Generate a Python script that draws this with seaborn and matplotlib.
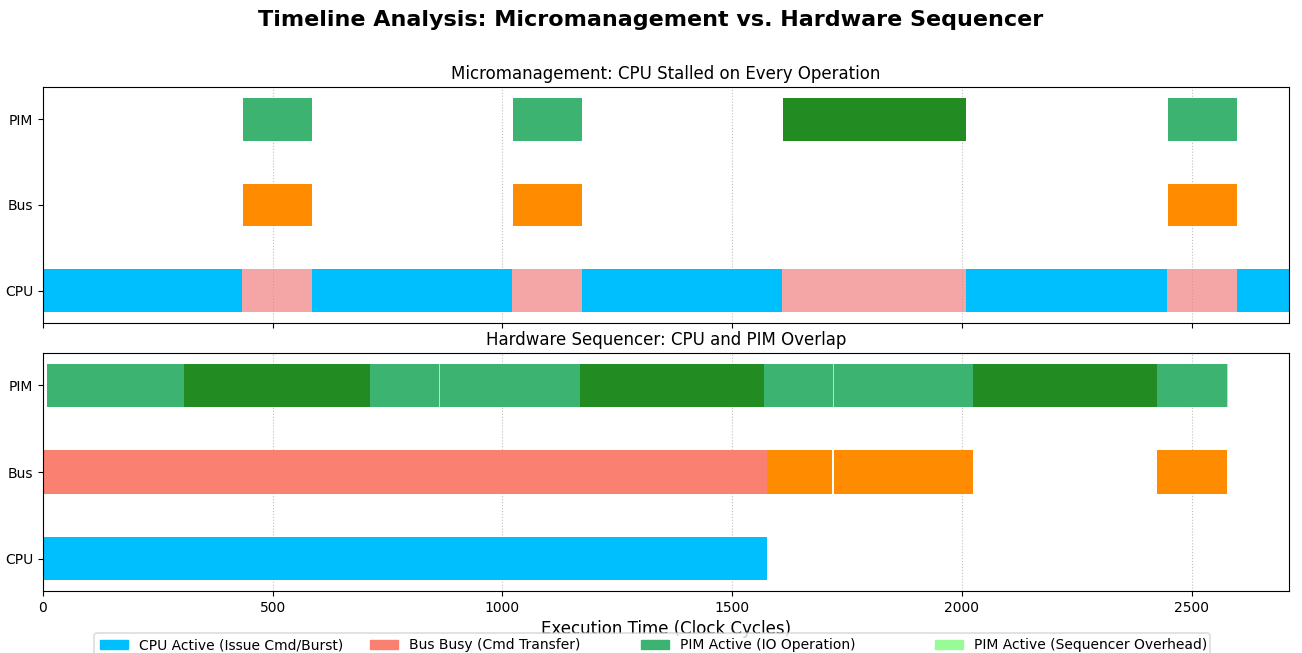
import matplotlib
matplotlib.use("Agg")
import matplotlib.pyplot as plt
from matplotlib.patches import Patch, FancyBboxPatch
from matplotlib.transforms import IdentityTransform
import seaborn as sns

# ---------------- data (start cycle, duration in cycles) ----------------
ROWS = ["CPU", "Bus", "PIM"]
X_MAX = 2712
X_TICKS = [0, 500, 1000, 1500, 2000, 2500]

# Micromanagement
MM_CPU_ACTIVE = [(0, 434), (586, 435), (1173, 435), (2010, 436), (2598, 114)]
MM_CPU_STALL = [(434, 152), (1021, 152), (1608, 402), (2446, 152)]
MM_BUS_DATA = [(436, 150), (1023, 150), (2448, 150)]
MM_PIM_IO = [(436, 150), (1023, 150), (2448, 150)]
MM_PIM_COMPUTE = [(1610, 400)]

# Hardware sequencer
HS_CPU_ACTIVE = [(0, 1575)]
HS_BUS_CMD = [(0, 1575)]
HS_BUS_DATA = [(1575, 143), (1722, 303), (2425, 152)]
HS_PIM_IO = [(8, 300), (711, 150), (865, 303), (1569, 150), (1722, 303), (2425, 152)]
HS_PIM_COMPUTE = [(308, 403), (1168, 401), (2025, 400)]
HS_PIM_OVERHEAD = [(861, 4), (1719, 3), (2577, 3)]

LEGEND_LABELS = ["CPU Active (Issue Cmd/Burst)", "Bus Busy (Cmd Transfer)",
                 "PIM Active (IO Operation)", "PIM Active (Sequencer Overhead)"]

# ---------------- style ----------------
C_CPU = "deepskyblue"
C_STALL = "lightcoral"
C_BUS = "salmon"
C_DATA = "darkorange"
C_IO = "mediumseagreen"
C_COMP = "forestgreen"
C_OVH = "palegreen"

sns.set_style("ticks", rc={"axes.edgecolor": "black", "xtick.color": "black",
                           "ytick.color": "black", "text.color": "black",
                           "axes.labelcolor": "black"})
plt.rcParams["font.family"] = ["DejaVu Sans"]

W, H = 1302, 653
fig = plt.figure(figsize=(W / 100, H / 100), dpi=100)
ax1 = fig.add_axes([0.0330, 0.5054, 0.9570, 0.3614])
ax2 = fig.add_axes([0.0330, 0.0949, 0.9570, 0.3645], sharex=ax1)


def draw(ax, segs, row, color, alpha=1.0):
    y = ROWS.index(row)
    for s, d in segs:
        ax.barh(y, d, left=s, height=0.5, color=color, alpha=alpha, linewidth=0)


draw(ax1, MM_CPU_ACTIVE, "CPU", C_CPU)
draw(ax1, MM_CPU_STALL, "CPU", C_STALL, alpha=0.7)
draw(ax1, MM_BUS_DATA, "Bus", C_DATA)
draw(ax1, MM_PIM_IO, "PIM", C_IO)
draw(ax1, MM_PIM_COMPUTE, "PIM", C_COMP)

draw(ax2, HS_CPU_ACTIVE, "CPU", C_CPU)
draw(ax2, HS_BUS_CMD, "Bus", C_BUS)
draw(ax2, HS_BUS_DATA, "Bus", C_DATA)
draw(ax2, HS_PIM_IO, "PIM", C_IO)
draw(ax2, HS_PIM_COMPUTE, "PIM", C_COMP)
draw(ax2, HS_PIM_OVERHEAD, "PIM", C_OVH)

for ax in (ax1, ax2):
    ax.set_yticks(range(len(ROWS)))
    ax.set_yticklabels(ROWS, fontsize=10)
    ax.set_xlim(0, X_MAX)
    ax.set_xticks(X_TICKS)
    ax.grid(axis="x", linestyle=":", color="#b0b0b0", alpha=0.8, linewidth=0.8)
    ax.set_axisbelow(True)
    ax.tick_params(axis="both", labelsize=10, length=3.5, width=0.8)

ax1.tick_params(axis="x", labelbottom=False)
ax1.set_title("Micromanagement: CPU Stalled on Every Operation", fontsize=12)
ax2.set_title("Hardware Sequencer: CPU and PIM Overlap", fontsize=12)
ax2.set_xlabel("Execution Time (Clock Cycles)", fontsize=12)

fig.suptitle("Timeline Analysis: Micromanagement vs. Hardware Sequencer",
             fontsize=16, fontweight="bold", y=0.985)

# legend: shared frame + one entry per column, placed like the reference
frame = FancyBboxPatch((94, -10), 1116, 30,
                       boxstyle="round,pad=0,rounding_size=2.8",
                       transform=IdentityTransform(), facecolor="white",
                       edgecolor="0.8", linewidth=1.0, alpha=0.8, zorder=4)
fig.add_artist(frame)

entry_px = [100, 370, 641, 935]
colors = [C_CPU, C_BUS, C_IO, C_OVH]
for px, c, lab in zip(entry_px, colors, LEGEND_LABELS):
    fig.legend([Patch(color=c)], [lab], loc="upper left", fontsize=10,
               bbox_to_anchor=((px - 5.6) / W, 0.031), frameon=False,
               borderaxespad=0)

fig.savefig("out.png", dpi=100)
